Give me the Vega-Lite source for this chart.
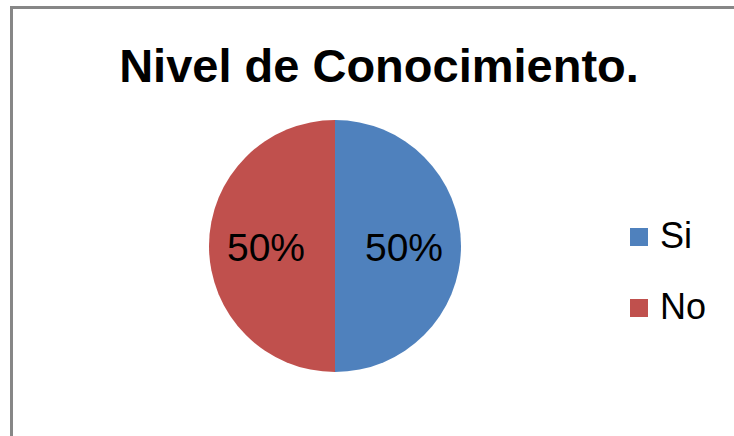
{
  "$schema": "https://vega.github.io/schema/vega-lite/v6.json",
  "width": 252,
  "height": 252,
  "autosize": {"type": "none"},
  "padding": {"left": 209, "top": 120, "right": 273, "bottom": 64},
  "background": "white",
  "title": {
    "text": "Nivel de Conocimiento.",
    "font": "Liberation Sans",
    "fontSize": 47,
    "fontWeight": "bold",
    "color": "black",
    "anchor": "middle",
    "baseline": "alphabetic",
    "dx": 44,
    "offset": -123
  },
  "config": {
    "view": {"stroke": null},
    "legend": {
      "orient": "none",
      "legendX": 412,
      "legendY": 99,
      "padding": 0,
      "symbolType": "square",
      "symbolSize": 324,
      "symbolStrokeWidth": 0,
      "labelFont": "Liberation Sans",
      "labelFontSize": 36,
      "labelColor": "black",
      "labelOffset": 3,
      "rowPadding": 35,
      "title": null
    }
  },
  "layer": [
    {
      "data": {"values": [{}]},
      "mark": {
        "type": "rect",
        "x": -197.5,
        "y": -112.5,
        "x2": 535,
        "y2": 325,
        "fill": null,
        "stroke": "#878787",
        "strokeWidth": 3
      },
      "encoding": {}
    },
    {
      "data": {"name": "main"},
      "mark": {"type": "arc"},
      "encoding": {
        "theta": {"field": "value", "type": "quantitative", "stack": true},
        "order": {"field": "cat", "sort": "descending"},
        "color": {
          "field": "cat",
          "type": "nominal",
          "scale": {"domain": ["Si", "No"], "range": ["#4F81BD", "#C0504D"]},
          "legend": {"title": null}
        }
      }
    },
    {
      "data": {"name": "main"},
      "mark": {
        "type": "text",
        "radius": 69,
        "font": "Liberation Sans",
        "fontSize": 39,
        "color": "black",
        "baseline": "middle",
        "dy": 3
      },
      "encoding": {
        "theta": {"field": "value", "type": "quantitative", "stack": true},
        "order": {"field": "cat", "sort": "descending"},
        "text": {"field": "value", "type": "quantitative", "format": ".0%"}
      }
    }
  ],
  "datasets": {
    "main": [
      {"cat": "Si", "value": 0.5},
      {"cat": "No", "value": 0.5}
    ]
  }
}
